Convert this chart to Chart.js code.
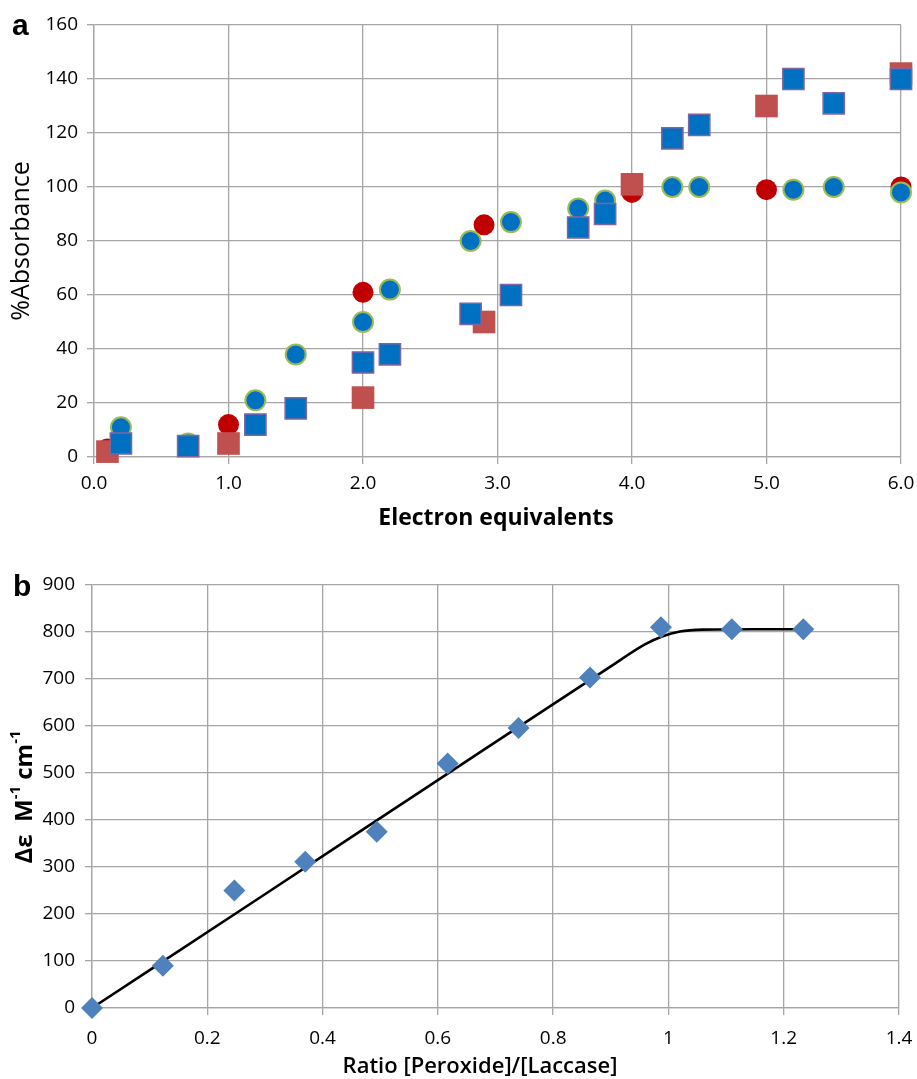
<!DOCTYPE html>
<html><head><meta charset="utf-8">
<script src="https://cdn.jsdelivr.net/npm/chart.js@4.4.1/dist/chart.umd.min.js"></script>
<style>
html,body{margin:0;padding:0;background:#fff;}
canvas{position:absolute;left:0;}
#chartA{top:0;}
#chartB{top:540px;}
</style></head><body>
<canvas id="chartA" width="917" height="540"></canvas>
<canvas id="chartB" width="917" height="539"></canvas>
<script>
// ---- Panel a data ----
const redX = [0.1, 1.0, 2.0, 2.9, 4.0, 5.0, 6.0];
const redCircleY = [3, 12, 61, 86, 98, 99, 100];
const redSquareY = [2, 5, 22, 50, 101, 130, 142];
const blueX = [0.2, 0.7, 1.2, 1.5, 2.0, 2.2, 2.8, 3.1, 3.6, 3.8, 4.3, 4.5, 5.2, 5.5, 6.0];
const blueCircleY = [11, 5, 21, 38, 50, 62, 80, 87, 92, 95, 100, 100, 99, 100, 98];
const blueSquareY = [5, 4, 12, 18, 35, 38, 53, 60, 85, 90, 118, 123, 140, 131, 140];
const xTitleA = 'Electron equivalents';
const yTitleA = '%Absorbance';

// ---- Panel b data ----
const ratioX = [0, 0.123, 0.247, 0.370, 0.494, 0.617, 0.740, 0.864, 0.987, 1.110, 1.234];
const deltaEps = [0, 90, 250, 311, 375, 520, 596, 703, 810, 806, 806];
const fitX = [0, 0.3, 0.6, 0.9, 0.96, 0.99, 1.02, 1.06, 1.15, 1.234];
const fitY = [0, 242, 485, 727, 774, 791, 801, 805, 806, 806];
const xTitleB = 'Ratio [Peroxide]/[Laccase]';

const pts = (xs, ys) => xs.map((x, i) => ({x: x, y: ys[i]}));

const GRID = '#a6a6a6';
const TICKFONT = {family: '"Open Sans", sans-serif', size: 19};

const textPlugin = {
  id: 'texts',
  afterDraw(chart, args, opts) {
    const ctx = chart.ctx;
    (opts.items || []).forEach(it => {
      ctx.save();
      ctx.translate(it.x, it.y);
      if (it.rotate) ctx.rotate(it.rotate);
      ctx.fillStyle = '#000';
      ctx.textBaseline = it.baseline || 'middle';
      ctx.textAlign = 'left';
      const segs = it.segs || [{t: it.text}];
      let total = 0;
      segs.forEach(s => { ctx.font = s.sup ? it.supFont : it.font; s.w = ctx.measureText(s.t).width; total += s.w; });
      let x = it.align === 'left' ? 0 : -total / 2;
      segs.forEach(s => {
        ctx.font = s.sup ? it.supFont : it.font;
        ctx.fillText(s.t, x, s.sup ? -it.supShift : 0);
        x += s.w;
      });
      ctx.restore();
    });
  }
};

function axis(min, max, step, size, isX, pad, fmt) {
  return {
    type: 'linear', min: min, max: max,
    afterFit: s => {
      if (isX) s.height = size; else s.width = size;
      s.paddingLeft = 0; s.paddingRight = 0; s.paddingTop = 0; s.paddingBottom = 0;
    },
    grid: {color: GRID, lineWidth: 1.3, tickLength: 7, tickColor: GRID, drawTicks: true},
    border: {color: GRID, width: 1.3},
    ticks: {stepSize: step, color: '#000', font: TICKFONT, padding: pad,
            maxRotation: 0, autoSkip: false, callback: fmt}
  };
}

new Chart(document.getElementById('chartA'), {
  type: 'scatter',
  data: {
    datasets: [
      {label: 'blue squares', data: pts(blueX, blueSquareY), pointStyle: 'rect', pointRadius: 15,
       backgroundColor: '#0070c0', borderColor: '#8064a2', borderWidth: 1.5, order: 0, clip: false},
      {label: 'red squares', data: pts(redX, redSquareY), pointStyle: 'rect', pointRadius: 16,
       backgroundColor: '#c0504d', borderColor: '#c0504d', borderWidth: 0, order: 1, clip: false},
      {label: 'blue circles', data: pts(blueX, blueCircleY), pointStyle: 'circle', pointRadius: 10,
       backgroundColor: '#0070c0', borderColor: '#9bbb59', borderWidth: 2, order: 2, clip: false},
      {label: 'red circles', data: pts(redX, redCircleY), pointStyle: 'circle', pointRadius: 10.5,
       backgroundColor: '#c00000', borderColor: '#c00000', borderWidth: 0, order: 3, clip: false}
    ]
  },
  options: {
    responsive: false, animation: false,
    layout: {autoPadding: false, padding: {top: 25, right: 16, left: 0, bottom: 0}},
    plugins: {
      legend: {display: false}, tooltip: {enabled: false},
      texts: {items: [
        {text: 'a', x: 12, y: 35, baseline: 'alphabetic', align: 'left', font: 'bold 30px "Liberation Sans", Arial, sans-serif'},
        {text: yTitleA, x: 22, y: 241, rotate: -Math.PI / 2, font: '25px "Open Sans", sans-serif'},
        {text: xTitleA, x: 496, y: 518, font: 'bold 23px "Open Sans", sans-serif'}
      ]}
    },
    scales: {
      x: axis(0, 6, 1, 83, true, 8, v => Number(v).toFixed(1)),
      y: axis(0, 160, 20, 94, false, 9)
    }
  },
  plugins: [textPlugin]
});

new Chart(document.getElementById('chartB'), {
  type: 'scatter',
  data: {
    datasets: [
      {label: 'data', data: pts(ratioX, deltaEps), pointStyle: 'rectRot', pointRadius: 11,
       backgroundColor: '#4f81bd', borderColor: '#4f81bd', borderWidth: 0, order: 0, clip: false},
      {label: 'fit', data: pts(fitX, fitY), showLine: true, pointRadius: 0, borderColor: '#000',
       borderWidth: 2.6, cubicInterpolationMode: 'monotone', order: 1, clip: false}
    ]
  },
  options: {
    responsive: false, animation: false,
    layout: {autoPadding: false, padding: {top: 45, right: 18, left: 0, bottom: 0}},
    plugins: {
      legend: {display: false}, tooltip: {enabled: false},
      texts: {items: [
        {text: 'b', x: 13, y: 56, baseline: 'alphabetic', align: 'left', font: 'bold 30px "Liberation Sans", Arial, sans-serif'},
        {segs: [{t: 'Δε  M'}, {t: '-1', sup: true}, {t: ' cm'}, {t: '-1', sup: true}],
         x: 25, y: 257, rotate: -Math.PI / 2, font: 'bold 24px "Open Sans", sans-serif',
         supFont: 'bold 15px "Open Sans", sans-serif', supShift: 9},
        {text: xTitleB, x: 480, y: 527, font: '600 22px "Open Sans", sans-serif'}
      ]}
    },
    scales: {
      x: axis(0, 1.4, 0.2, 71, true, 12, v => String(parseFloat(Number(v).toFixed(1)))),
      y: axis(0, 900, 100, 92, false, 10)
    }
  },
  plugins: [textPlugin]
});
</script>
</body></html>
